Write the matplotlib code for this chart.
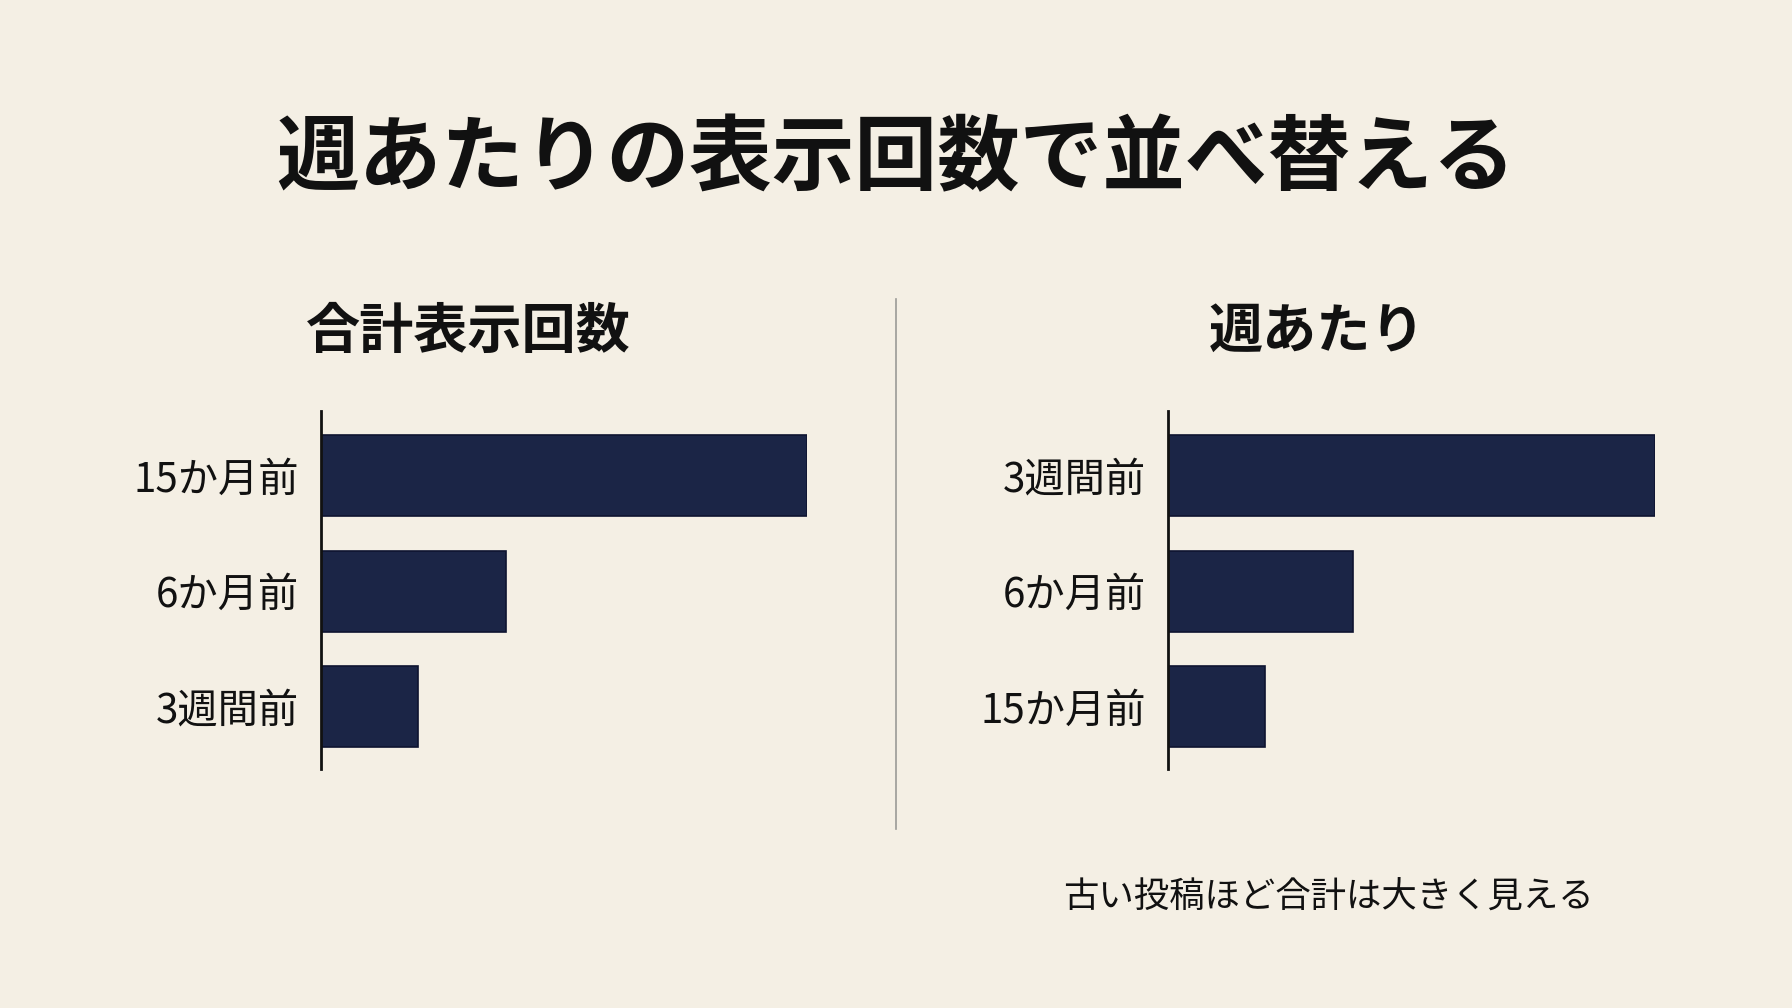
#plot.py
#total views vs views per week
import matplotlib.pyplot as plt

plt.rcParams['font.family'] = ['Noto Sans CJK JP', 'DejaVu Sans']

# data
labels_total = ["15か月前", "6か月前", "3週間前"]
values_total = [100, 38, 20]
labels_week = ["3週間前", "6か月前", "15か月前"]
values_week = [100, 38, 20]

BG = "#F4EFE4"
BAR = "#1B2546"
EDGE = "#0E1430"
INK = "#111111"

W, H = 1792, 1008
fig = plt.figure(figsize=(W / 100, H / 100), dpi=100, facecolor=BG)

def px_axes(x0, y0, x1, y1):
    #pixel box (top-left origin) -> figure axes
    return fig.add_axes([x0 / W, 1 - y1 / H, (x1 - x0) / W, (y1 - y0) / H])

def draw_panel(ax, labels, values):
    ax.set_facecolor(BG)
    pos = list(range(len(labels)))
    ax.barh(pos, values, height=0.70, color=BAR, edgecolor=EDGE, linewidth=1.2)
    ax.set_xlim(0, 100)
    ax.set_ylim(2.54, -0.56)
    ax.set_yticks(pos)
    ax.set_yticklabels(labels, fontsize=29, color=INK)
    ax.tick_params(axis='y', length=0, pad=16)
    ax.set_xticks([])
    for s in ["top", "right", "bottom"]:
        ax.spines[s].set_visible(False)
    ax.spines["left"].set_linewidth(2.0)
    ax.spines["left"].set_color(INK)

ax1 = px_axes(321, 411, 807, 769)
draw_panel(ax1, labels_total, values_total)
ax2 = px_axes(1168, 411, 1655, 769)
draw_panel(ax2, labels_week, values_week)

# divider
fig.add_artist(plt.Line2D([896 / W, 896 / W], [1 - 299 / H, 1 - 829 / H],
                          color="#9A9A96", linewidth=1.2))

# texts
fig.text(896 / W, 1 - 160 / H, "週あたりの表示回数で並べ替える", fontsize=59.5,
         fontweight="bold", color=INK, ha="center", va="center")
fig.text(468 / W, 1 - 332 / H, "合計表示回数", fontsize=39,
         fontweight="bold", color=INK, ha="center", va="center")
fig.text(1317 / W, 1 - 332 / H, "週あたり", fontsize=39,
         fontweight="bold", color=INK, ha="center", va="center")
fig.text(1328 / W, 1 - 898 / H, "古い投稿ほど合計は大きく見える", fontsize=25.5,
         color=INK, ha="center", va="center")

fig.savefig("out.png", dpi=100, facecolor=BG)
